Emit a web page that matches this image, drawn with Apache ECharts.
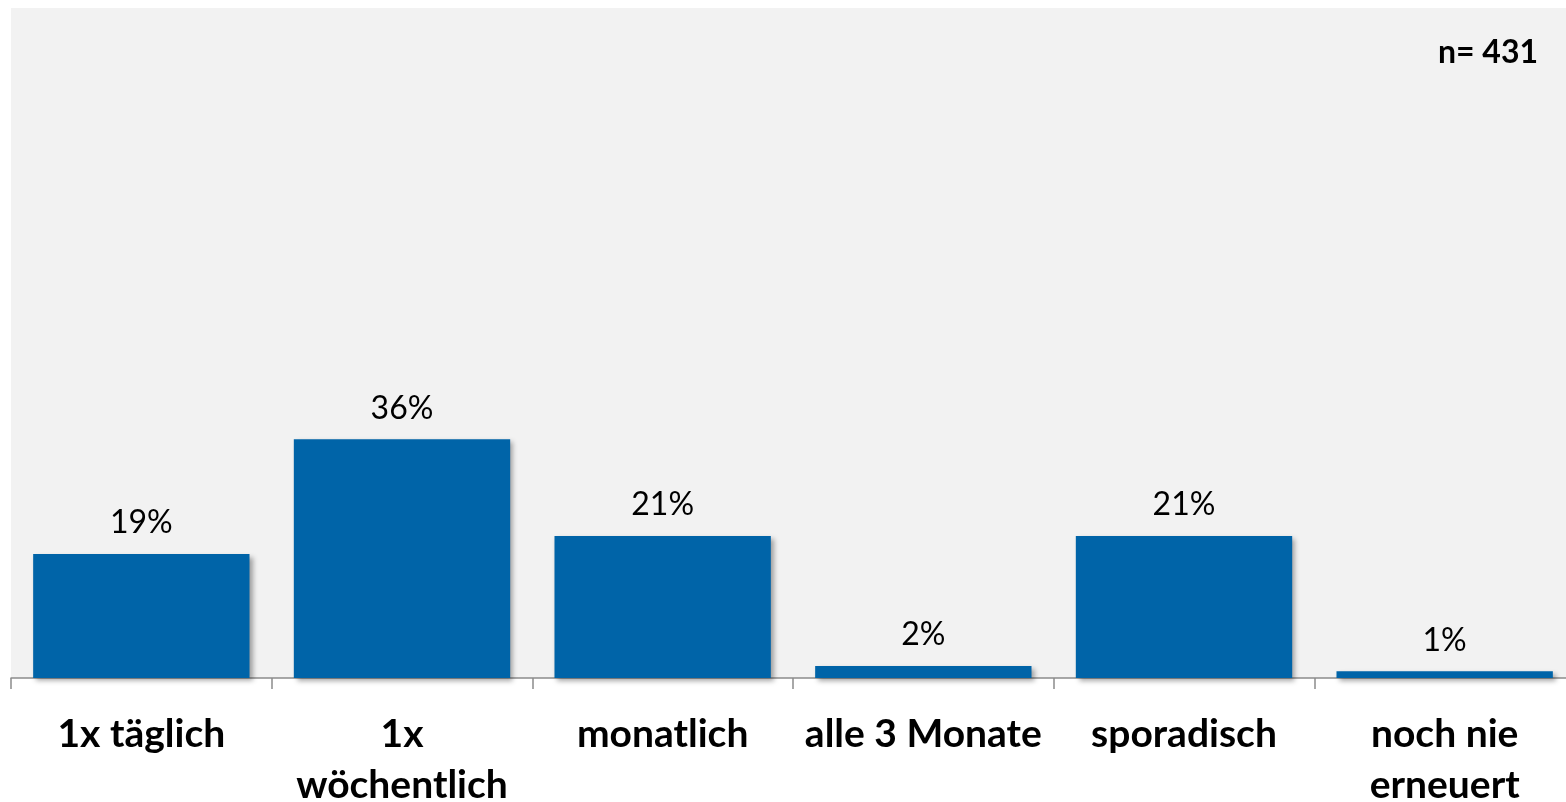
<!DOCTYPE html>
<html>
<head>
<meta charset="utf-8">
<script src="https://cdn.jsdelivr.net/npm/echarts@6/dist/echarts.min.js"></script>
<style>
  html, body { margin: 0; padding: 0; background: #fff; }
  #main { width: 1566px; height: 802px; }
</style>
</head>
<body>
<div id="main"></div>
<script>
var categories = ['1x täglich', '1x\nwöchentlich', 'monatlich', 'alle 3 Monate', 'sporadisch', 'noch nie\nerneuert']
// bar heights (percent)
var shares = [18.7, 36, 21.4, 1.8, 21.4, 1.0]
var sampleNote = 'n= 431'

var chartDom = document.getElementById('main')
var myChart = echarts.init(chartDom)
var fontFam = 'Lato, "Open Sans", sans-serif'

var option = {
  animation: false,
  title: {
    text: sampleNote,
    right: 23,
    top: 32,
    textStyle: { fontFamily: fontFam, fontSize: 32, fontWeight: 'bold', color: '#000' }
  },
  grid: {
    show: true,
    left: 11,
    right: -9,
    top: 8,
    bottom: 124,
    outerBoundsMode: 'none',
    backgroundColor: '#f2f2f2',
    borderWidth: 0
  },
  xAxis: {
    type: 'category',
    data: categories,
    axisLine: { lineStyle: { color: '#8c8c8c', width: 1.5 } },
    axisTick: { show: true, length: 11, lineStyle: { color: '#8c8c8c', width: 1.5 } },
    axisLabel: {
      interval: 0,
      margin: 31,
      fontFamily: fontFam,
      fontSize: 39,
      fontWeight: 'bold',
      lineHeight: 51,
      color: '#000'
    }
  },
  yAxis: {
    type: 'value',
    min: 0,
    max: 101,
    show: false,
    splitLine: { show: false }
  },
  series: [
    {
      type: 'bar',
      data: shares,
      barCategoryGap: '17%',
      itemStyle: {
        color: '#0064a8',
        shadowColor: 'rgba(0,0,0,0.35)',
        shadowBlur: 5,
        shadowOffsetX: 3,
        shadowOffsetY: 3
      },
      label: {
        show: true,
        position: 'top',
        distance: 15,
        fontFamily: fontFam,
        fontSize: 32,
        color: '#000',
        formatter: function (p) { return Math.round(p.value) + '%' }
      }
    }
  ]
}

myChart.setOption(option)
</script>
</body>
</html>
